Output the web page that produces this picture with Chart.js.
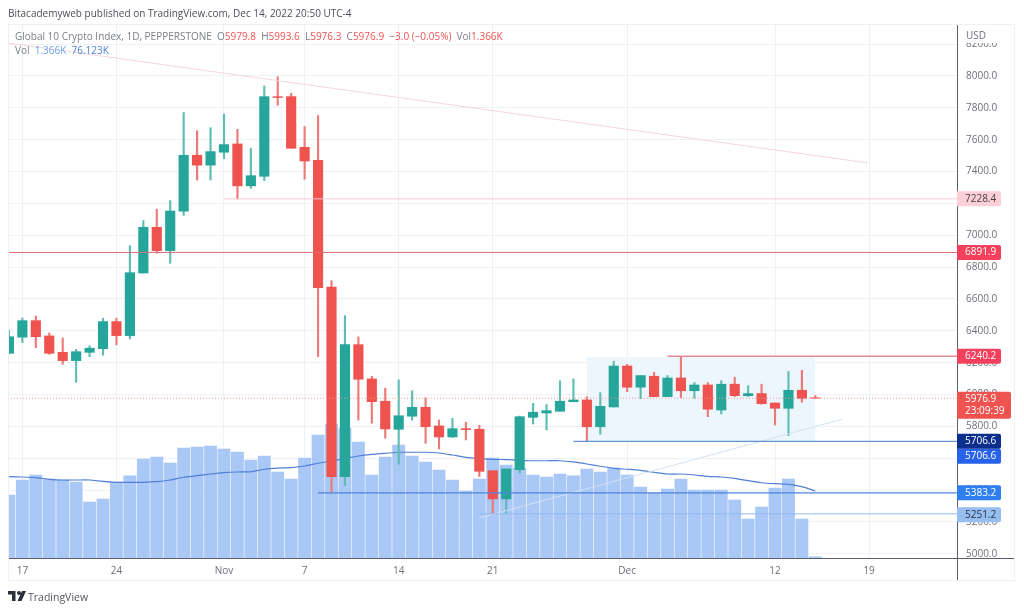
<!DOCTYPE html>
<html>
<head>
<meta charset="utf-8">
<title>Global 10 Crypto Index</title>
<script src="https://cdn.jsdelivr.net/npm/chart.js@4"></script>
<style>
  html, body { margin: 0; padding: 0; background: #fff; }
  body { width: 1024px; height: 612px; position: relative; overflow: hidden; font-family: "Open Sans", sans-serif; }
  canvas { position: absolute; left: 0; top: 0; }
  .frame { position: absolute; left: 8px; top: 24px; width: 1007px; height: 557px; border: 1px solid #eef0f3; box-sizing: border-box; }
  .txt { position: absolute; white-space: nowrap; font-size: 10px; line-height: 14px; color: #7b7e88; }
  .publisher { left: 8px; top: 6px; color: #4d4f57; }
  .red { color: #ef5350; }
  .logo { position: absolute; left: 8px; top: 591px; }
  .brand { left: 28px; top: 590px; color: #55575f; font-size: 10.5px; }
</style>
</head>
<body>
<canvas id="chart" width="1024" height="612"></canvas>
<div class="frame"></div>
<div class="txt publisher">Bitacademyweb published on TradingView.com, Dec 14, 2022 20:50 UTC-4</div>
<div class="txt" style="left:15px;top:29px">Global 10 Crypto Index, 1D, PEPPERSTONE&nbsp;&nbsp;O<span class="red">5979.8</span>&nbsp;&nbsp;H<span class="red">5993.6</span>&nbsp;&nbsp;L<span class="red">5976.3</span>&nbsp;&nbsp;C<span class="red">5976.9</span>&nbsp;&nbsp;<span class="red">−3.0 (−0.05%)</span>&nbsp;&nbsp;Vol<span class="red">1.366K</span></div>
<div class="txt" style="left:15px;top:43px">Vol&nbsp;&nbsp;<span style="color:#66a6ef">1.366K</span>&nbsp;&nbsp;<span style="color:#4f7fd8">76.123K</span></div>
<svg class="logo" width="18" height="10" viewBox="0 0 36 20"><path fill="#2a2e39" d="M0 0h15v20H8V7H0zM22 0a4 4 0 1 1 0 8 4 4 0 0 1 0-8zM28 0h8l-9 20h-8z"/></svg>
<div class="txt brand">TradingView</div>

<script>
const dates = [
  'Oct 16','Oct 17','Oct 18','Oct 19','Oct 20','Oct 21','Oct 22','Oct 23','Oct 24','Oct 25','Oct 26','Oct 27','Oct 28','Oct 29','Oct 30','Oct 31',
  'Nov 1','Nov 2','Nov 3','Nov 4','Nov 5','Nov 6','Nov 7','Nov 8','Nov 9','Nov 10','Nov 11','Nov 12','Nov 13','Nov 14','Nov 15','Nov 16','Nov 17','Nov 18','Nov 19','Nov 20','Nov 21','Nov 22','Nov 23','Nov 24','Nov 25','Nov 26','Nov 27','Nov 28','Nov 29','Nov 30',
  'Dec 1','Dec 2','Dec 3','Dec 4','Dec 5','Dec 6','Dec 7','Dec 8','Dec 9','Dec 10','Dec 11','Dec 12','Dec 13','Dec 14','Dec 15'
];
const opens = [6259,6360,6464,6368,6265,6213,6265,6288,6458,6370,6763,7050,6903,7151,7502,7440,7521,7573,7310,7370,7870,7870,7552,7471,6674,5485,6313,6098,5958,5782,5864,5920,5803,5734,5786,5782,5522,5345,5529,5857,5884,5895,5955,5966,5798,5922,6179,6046,6115,5987,6104,6024,6060,5903,6065,5993,6006,5947,5914,6027,5979.8];
const highs = [6405,6481,6493,6387,6355,6284,6307,6479,6479,6935,7092,7163,7217,7770,7656,7675,7761,7665,7546,7937,7995,7891,7682,7751,6715,6495,6362,6115,6040,6092,6024,5980,5840,5851,5826,5807,5522,5533,5865,5945,5937,6087,6098,5987,6012,6209,6190,6119,6140,6119,6240,6075,6075,6087,6109,6056,6065,5947,6144,6152,5993.6];
const lows = [6255,6326,6294,6253,6190,6077,6238,6247,6311,6349,6763,6887,6824,7125,7347,7347,7481,7228,7295,7343,7816,7546,7351,6238,5384,5428,5840,5820,5726,5562,5839,5694,5658,5730,5715,5485,5250,5255,5506,5815,5778,5895,5955,5704,5751,5922,6018,5974,5987,5987,5980,5977,5861,5878,5987,5987,5939,5809,5742,5952,5976.3];
const closes = [6363,6464,6363,6259,6213,6269,6291,6458,6370,6765,7050,6903,7152,7502,7440,7525,7569,7310,7374,7870,7865,7546,7466,6671,5485,6313,6096,5955,5784,5867,5920,5798,5734,5786,5780,5518,5345,5533,5861,5889,5899,5958,5966,5798,5926,6179,6046,6119,5987,6104,6024,6060,5908,6065,5993,6006,5943,5914,6027,5976,5976.9];
// volume in thousands
const volumes = [71.6,88.6,94.3,89.7,88.6,86.3,63.6,67,86.3,93.2,112.5,114.7,107.9,125,126.1,127.2,123.8,120.4,111.3,115.9,97.7,89.7,113.6,139.7,152.2,147.7,131.8,94.3,114.7,128.4,115.9,109.1,100,88.6,76.1,89.7,113.6,105.6,102.2,94.3,92,95.4,93.2,101.1,97.7,102.2,94.3,80.7,73.8,78.4,89.7,77.2,77.2,77.2,65.9,44.3,57.9,79.5,89.7,44.3,1.366];
const volumeMa = [92.4,92,91.2,89.4,88.6,88.6,88.6,87.1,86,86,86,86.7,88.6,91.7,93.5,95.4,96.9,97.7,98,100.8,102.2,102.6,104.5,107.6,110.5,112.8,115.9,117.8,118.9,120.1,120.1,120.1,119.3,117,114.4,112.8,112.1,111.7,111,110.5,110.5,110.5,109.1,106.8,104.2,101.9,100.8,99.6,97.4,95.4,95.4,94.3,92.8,92,90.5,87.8,85.5,84.4,83.7,81,76.123];

const dayTicks = [1,8,16,22,29,36,46,57,64];
const dayLabels = ['17','24','Nov','7','14','21','Dec','12','19'];
const priceTicks = [5000,5200,5400,5600,5800,6000,6200,6400,6600,6800,7000,7200,7400,7600,7800,8000,8200];

// drawings on the chart, in [day, price] pairs
const pinkTrend = [[-0.1,8207],[63.9,7454]];
const lightTrend = [[35,5225],[62,5845]];
const zoneDays = [43,60];
const zoneTop = 6236;
const zoneBottom = 5706.6;
const lastPrice = 5976.9;
const levelPrices = [7228.4,6891.9,6240.2,5706.6,5383.2,5251.2];
const levelStarts = [16,-0.1,49,42,23,35];
const levelColors = ['#f8ccd2','#dd6b78','#e08c98','#5f95cc','#4c84dc','#8fbaf0'];
const levelWidths = [1,1,1.5,1.2,1.2,1];

const GREEN = '#26a69a', RED = '#ef5350';
const X_MIN = -0.07, X_MAX = 70.54;
const candleColors = opens.map((o, i) => closes[i] >= o ? GREEN : RED);

function segment(points, color, width, order, dash) {
  return {
    type: 'line',
    data: points.map(p => ({ x: p[0], y: p[1] })),
    yAxisID: 'y',
    borderColor: color,
    borderWidth: width,
    borderDash: dash || [],
    pointRadius: 0,
    order: order
  };
}

const datasets = [];
// lines go on top of the candles
levelPrices.forEach((p, i) => {
  datasets.push(segment([[levelStarts[i], p], [X_MAX, p]], levelColors[i], levelWidths[i], 1));
});
datasets.push(segment(pinkTrend, '#f6d5da', 1, 2));
datasets.push(segment(lightTrend, '#d5e1f4', 1, 2));
datasets.push(segment([[X_MIN, lastPrice], [X_MAX, lastPrice]], '#ee9a99', 1, 2, [1, 2]));
datasets.push({
  type: 'bar',
  data: opens.map((o, i) => ({ x: i, y: [o, closes[i]] })),
  yAxisID: 'y',
  backgroundColor: candleColors,
  barThickness: 9.5,
  grouped: false,
  order: 3
});
datasets.push({
  type: 'bar',
  data: highs.map((h, i) => ({ x: i, y: [lows[i], h] })),
  yAxisID: 'y',
  backgroundColor: candleColors.map(c => c === GREEN ? '#5fbdb3' : '#ee7a78'),
  barThickness: 1.5,
  grouped: false,
  order: 4
});
datasets.push({
  type: 'line',
  data: volumeMa.map((v, i) => ({ x: i, y: v })),
  yAxisID: 'yVol',
  borderColor: '#4f7fd8',
  borderWidth: 1.2,
  pointRadius: 0,
  tension: 0.2,
  order: 5
});
datasets.push({
  type: 'bar',
  data: volumes.map((v, i) => ({ x: i, y: v })),
  yAxisID: 'yVol',
  backgroundColor: '#a9c8f6',
  barThickness: 12.2,
  grouped: false,
  order: 6
});
datasets.push({
  type: 'line',
  data: zoneDays.map(d => ({ x: d, y: zoneTop })),
  yAxisID: 'y',
  borderWidth: 0,
  pointRadius: 0,
  backgroundColor: '#edf6fc',
  fill: { value: zoneBottom },
  order: 7
});

// price tags on the right axis + the long axis lines
const axisTags = {
  id: 'axisTags',
  afterDraw(chart) {
    const ctx = chart.ctx, yScale = chart.scales.y, area = chart.chartArea;
    const left = area.right;

    ctx.save();
    // USD box sits over the top tick label
    ctx.fillStyle = '#fff';
    ctx.fillRect(left + 1, area.top, 57, 19);
    ctx.font = '10px "Open Sans"';
    ctx.fillStyle = '#6d7079';
    ctx.textBaseline = 'middle';
    ctx.fillText('USD', 966, 36);

    ctx.strokeStyle = '#5d606b';
    ctx.lineWidth = 1;
    ctx.beginPath();
    ctx.moveTo(area.left, Math.round(area.bottom) + 0.5);
    ctx.lineTo(1015, Math.round(area.bottom) + 0.5);
    ctx.moveTo(Math.round(left) + 0.5, area.top);
    ctx.lineTo(Math.round(left) + 0.5, 581);
    ctx.stroke();

    const tag = (y, h, w, bg, fg, lines) => {
      ctx.fillStyle = bg;
      ctx.beginPath();
      ctx.roundRect(left, y - h / 2, w, h, [0, 2, 2, 0]);
      ctx.fill();
      ctx.fillStyle = fg;
      lines.forEach((t, i) => {
        ctx.fillText(t, left + 8, y + (i - (lines.length - 1) / 2) * 12);
      });
    };
    tag(yScale.getPixelForValue(7228.4), 15, 44, '#fad0d6', '#4a3d40', ['7228.4']);
    tag(yScale.getPixelForValue(6891.9), 15, 44, '#f4405c', '#fff', ['6891.9']);
    tag(yScale.getPixelForValue(6240.2), 15, 44, '#f4405c', '#fff', ['6240.2']);
    tag(yScale.getPixelForValue(lastPrice) + 7, 27, 54, '#ef5350', '#fff', ['5976.9', '23:09:39']);
    tag(yScale.getPixelForValue(5706.6) + 15, 15, 44, '#2962ea', '#fff', ['5706.6']);
    tag(yScale.getPixelForValue(5706.6), 15, 44, '#0c2f8e', '#fff', ['5706.6']);
    tag(yScale.getPixelForValue(5383.2), 15, 44, '#2f80ee', '#fff', ['5383.2']);
    tag(yScale.getPixelForValue(5251.2) + 1, 15, 44, '#96bef0', '#27324a', ['5251.2']);
    ctx.restore();
  }
};

new Chart(document.getElementById('chart').getContext('2d'), {
  type: 'bar',
  data: { labels: dates, datasets: datasets },
  options: {
    responsive: false,
    animation: false,
    layout: { padding: { left: 8, top: 24, right: 9, bottom: 31 } },
    plugins: { legend: { display: false }, tooltip: { enabled: false } },
    scales: {
      x: {
        type: 'linear',
        offset: false,
        min: X_MIN,
        max: X_MAX,
        afterBuildTicks: s => { s.ticks = dayTicks.map(d => ({ value: d })); },
        afterFit: s => { s.height = 23; },
        grid: { offset: false, color: '#ecf1f5', drawTicks: false },
        border: { display: false },
        ticks: {
          autoSkip: false,
          maxRotation: 0,
          padding: 7,
          color: '#6d7079',
          font: { family: 'Open Sans', size: 10 },
          callback: v => dayLabels[dayTicks.indexOf(v)]
        }
      },
      y: {
        type: 'linear',
        position: 'right',
        min: 4974,
        max: 8326,
        afterBuildTicks: s => { s.ticks = priceTicks.map(v => ({ value: v })); },
        afterFit: s => { s.width = 58; },
        grid: { color: '#eef1f5', drawTicks: false },
        border: { display: false },
        ticks: {
          padding: 9,
          color: '#6d7079',
          font: { family: 'Open Sans', size: 10 },
          callback: v => v.toFixed(1)
        }
      },
      yVol: {
        type: 'linear',
        display: false,
        min: 0,
        max: 606.6
      }
    }
  },
  plugins: [axisTags]
});
</script>
</body>
</html>
